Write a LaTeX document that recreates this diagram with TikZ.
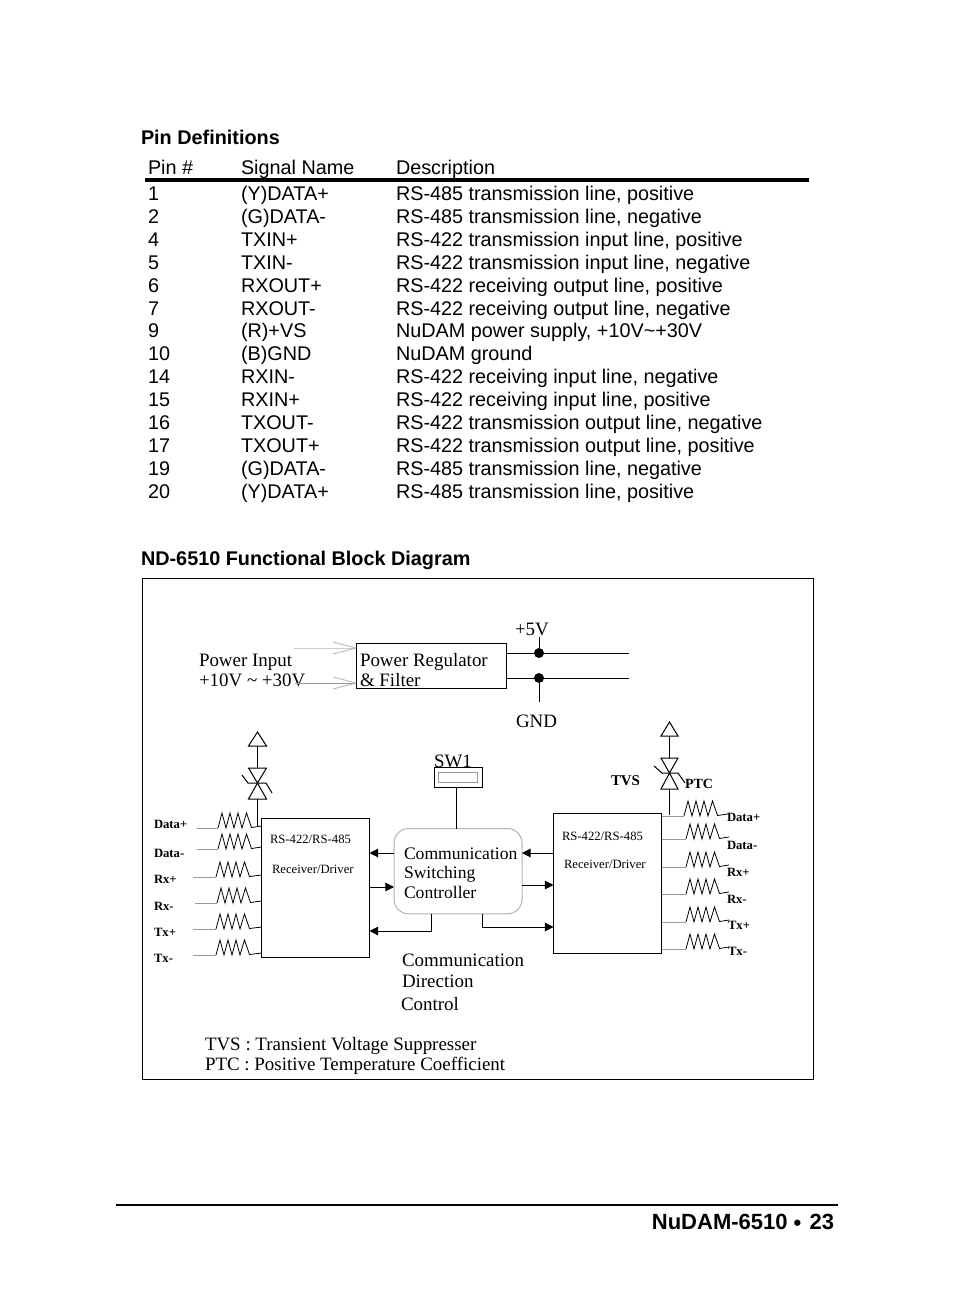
\documentclass[tikz,border=0pt]{standalone}
\usepackage{fontspec}
\setmainfont{Liberation Serif}
\newfontfamily\arialf{Liberation Sans}
\usetikzlibrary{arrows.meta,calc}
\tikzset{
  txt/.style={anchor=base west,inner sep=0pt,outer sep=0pt},
  body/.style={txt,font=\arialf\fontsize{14.85}{18}\selectfont},
  head/.style={txt,font=\arialf\bfseries\fontsize{14.87}{18}\selectfont},
  foot/.style={txt,anchor=base east,font=\arialf\bfseries\fontsize{16.5}{20}\selectfont},
  big/.style={txt,font=\fontsize{14.2}{17}\selectfont},
  ctl/.style={txt,font=\fontsize{13.2}{16}\selectfont},
  small/.style={txt,font=\fontsize{9.5}{11}\selectfont},
  lab/.style={txt,font=\bfseries\fontsize{9.5}{11}\selectfont},
  labb/.style={txt,font=\bfseries\fontsize{10.5}{12}\selectfont},
  box/.style={draw=black,line width=.75pt,rectangle,inner sep=0pt,outer sep=0pt,anchor=north west},
  ln/.style={draw=black,line width=.75pt},
  wiregray/.style={draw=black!40,line width=.6pt},
  wirelight/.style={draw=black!20,line width=.6pt},
  chevron/.style={draw=black!30,line width=.6pt},
  res/.style={draw=black,line width=.6pt,line join=miter},
  sym/.style={draw=black,line width=.75pt,line join=miter},
  arr/.style={ln,-{Triangle[length=6.5pt,width=6.5pt]}},
  dot/.style={circle,fill=black,inner sep=0pt,minimum size=7.5pt},
}
\newcommand\tabrow[4]{%
  \pgfmathsetmacro\rowy{200.4+22.92*#1}%
  \node[body] (pin#1) at (148,\rowy) {#2};
  \node[body] (sig#1) at (241,\rowy) {#3};
  \node[body] (desc#1) at (396,\rowy) {#4};
}
\newcommand\zigzag{-- ++(4,-15) -- ++(4,15) -- ++(4,-15) -- ++(4,15) -- ++(4,-15) -- ++(4,15) -- ++(4.5,-15) -- ++(5,14.5)}
\begin{document}
\begin{tikzpicture}[x=.75pt,y=-.75pt]
\useasboundingbox (0,0) rectangle (954,1314);
\node[head] (t1) at (141,144) {Pin Definitions};
\node[body] (hp) at (148,174) {Pin \#};
\node[body] (hs) at (241,174) {Signal Name};
\node[body] (hd) at (396,174) {Description};
\coordinate (ruleA) at (145,180);
\coordinate (ruleB) at (809,180);
\draw[draw=black,line width=3pt] (ruleA) -- (ruleB);
\tabrow{0}{1}{(Y)DATA+}{RS-485 transmission line, positive}
\tabrow{1}{2}{(G)DATA-}{RS-485 transmission line, negative}
\tabrow{2}{4}{TXIN+}{RS-422 transmission input line, positive}
\tabrow{3}{5}{TXIN-}{RS-422 transmission input line, negative}
\tabrow{4}{6}{RXOUT+}{RS-422 receiving output line, positive}
\tabrow{5}{7}{RXOUT-}{RS-422 receiving output line, negative}
\tabrow{6}{9}{(R)+VS}{NuDAM power supply, +10V\textasciitilde+30V}
\tabrow{7}{10}{(B)GND}{NuDAM ground}
\tabrow{8}{14}{RXIN-}{RS-422 receiving input line, negative}
\tabrow{9}{15}{RXIN+}{RS-422 receiving input line, positive}
\tabrow{10}{16}{TXOUT-}{RS-422 transmission output line, negative}
\tabrow{11}{17}{TXOUT+}{RS-422 transmission output line, positive}
\tabrow{12}{19}{(G)DATA-}{RS-485 transmission line, negative}
\tabrow{13}{20}{(Y)DATA+}{RS-485 transmission line, positive}
\node[head] (t2) at (141,565) {ND-6510 Functional Block Diagram};

% frame
\node[box,minimum width=503.25pt,minimum height=375.75pt] (frame) at (142,578) {};

% power
\node[box,minimum width=112.5pt,minimum height=33.75pt] (reg) at (356,643) {};
\node[big] (pi1) at (199,666) {Power Input};
\node[big] (pi2) at (199,686) {+10V \textasciitilde{} +30V};
\node[big] (pr1) at (360,666) {Power Regulator};
\node[big] (pr2) at (360,686) {\& Filter};
\node[big] (v5) at (515,635) {+5V};
\node[big] (gnd) at (516,727) {GND};
\coordinate (inA) at (294,648);
\coordinate (inB) at (295,683);
\draw[wirelight] (inA) -- (reg.west |- 0,648);
\draw[wiregray] (inB) -- (reg.west |- 0,683);
\draw[chevron] (333,642) -- (reg.west |- 0,648) -- (333,654);
\draw[chevron] (333,677) -- (reg.west |- 0,683) -- (333,689);
\node[dot] (d5) at (539,653) {};
\node[dot] (dg) at (539,678) {};
\coordinate (outA) at (629,653);
\coordinate (outB) at (629,678);
\coordinate (v5top) at (539,637);
\coordinate (gndbot) at (539,702);
\draw[ln] (reg.east |- d5) -- (outA);
\draw[ln] (reg.east |- dg) -- (outB);
\draw[ln] (v5top) -- (d5);
\draw[ln] (dg) -- (gndbot);

% receiver boxes
\node[box,minimum width=81pt,minimum height=104.25pt] (rxL) at (261.5,818) {};
\node[box,minimum width=81pt,minimum height=105pt] (rxR) at (553.5,813.5) {};
\node[small] (l1) at (270,843) {RS-422/RS-485};
\node[small] (l2) at (272,873) {Receiver/Driver};
\node[small] (r1) at (562,840) {RS-422/RS-485};
\node[small] (r2) at (564,868) {Receiver/Driver};

% controller
\node[box,draw=black!30,rounded corners=11pt,minimum width=96pt,minimum height=64pt] (ctrl) at (394,828.5) {};
\node[ctl] (c1) at (404,859) {Communication};
\node[ctl] (c2) at (404,878) {Switching};
\node[ctl] (c3) at (404,898) {Controller};

% switch
\node[box,minimum width=36pt,minimum height=15pt] (sw) at (434.5,767.5) {};
\node[box,draw=black!40,minimum width=29pt,minimum height=7.5pt] (swi) at (438.5,772.5) {};
\node[big] (swl) at (434,767) {SW1};
\draw[ln] (sw.south -| 456,0) -- (ctrl.north -| 456,0);

% arrows
\draw[arr] (ctrl.west |- 0,853) -- (rxL.east |- 0,853);
\draw[arr] (rxL.east |- 0,887) -- (ctrl.west |- 0,887);
\draw[arr] (ctrl.south -| 431,0) -- (431,931) -- (rxL.east |- 0,931);
\draw[arr] (rxR.west |- 0,853) -- (ctrl.east |- 0,853);
\draw[arr] (ctrl.east |- 0,885) -- (rxR.west |- 0,885);
\draw[arr] (ctrl.south -| 482,0) -- (482,927) -- (rxR.west |- 0,927);

% left resistors
\foreach \s/\z/\yy in {197/218/828,197/218/849,193/216/877,195/217/903,193/216/929,193/216/955}{
  \coordinate (wl\yy) at (\s,\yy);
  \coordinate (zl\yy) at (\z,\yy);
  \draw[wiregray] (wl\yy) -- (zl\yy);
  \pgfmathsetmacro\ye{\yy-2}
  \draw[res] (zl\yy) \zigzag -- (rxL.west |- 0,\ye);
}
% right resistors
\foreach \z/\yy/\ex/\ey in {684/816/728/814,686/839/729/837,686/867/729/865,686/894/729/892,686/922/729/920,686/949/729/947}{
  \coordinate (zr\yy) at (\z,\yy);
  \coordinate (er\yy) at (\ex,\ey);
  \draw[wiregray] (rxR.east |- zr\yy) -- (zr\yy);
  \draw[res] (zr\yy) \zigzag -- (er\yy);
}
% left TVS
\coordinate (ltA) at (257.5,746);
\coordinate (ltB) at (257.5,768);
\coordinate (ltC) at (257.5,799);
\draw[sym] (257.5,732) -- (266.5,746) -- (248.5,746) -- cycle;
\draw[sym] (ltA) -- (ltB);
\draw[sym] (248.5,768) -- (266.5,768) -- (257.5,783) -- cycle;
\draw[sym] (257.5,783) -- (266.5,799) -- (248.5,799) -- cycle;
\draw[sym] (242,775) -- (248,783) -- (266,783) -- (272,793);
\draw[sym] (ltC) -- (rxL.north -| 257.5,0) -- (257.5,826);
% right TVS
\coordinate (rtA) at (669.5,736);
\coordinate (rtB) at (669.5,758);
\coordinate (rtC) at (669.5,789);
\coordinate (rtD) at (669.5,815);
\draw[sym] (669.5,722) -- (678,736) -- (661,736) -- cycle;
\draw[sym] (rtA) -- (rtB);
\draw[sym] (661,758) -- (678,758) -- (669.5,773) -- cycle;
\draw[sym] (669.5,773) -- (678,789) -- (661,789) -- cycle;
\draw[sym] (654,766) -- (662,773) -- (678,773) -- (685,783);
\draw[sym] (rtC) -- (rtD);
\node[txt,font=\bfseries\fontsize{11.2}{13}\selectfont] (tvs) at (611,785) {TVS};
\node[labb] (ptc) at (685,788) {PTC};

% left labels
\node[lab] (a1) at (154,828) {Data+};
\node[lab] (a2) at (154,857) {Data-};
\node[lab] (a3) at (154,883) {Rx+};
\node[lab] (a4) at (154,910) {Rx-};
\node[lab] (a5) at (154,936) {Tx+};
\node[lab] (a6) at (154,962) {Tx-};
% right labels
\node[lab] (b1) at (727,821) {Data+};
\node[lab] (b2) at (727,849) {Data-};
\node[lab] (b3) at (727,876) {Rx+};
\node[lab] (b4) at (727,903) {Rx-};
\node[lab] (b5) at (728,929) {Tx+};
\node[lab] (b6) at (728,955) {Tx-};

% notes
\node[big] (n1) at (402,966) {Communication};
\node[big] (n2) at (402,987) {Direction};
\node[big] (n3) at (401,1010) {Control};
\node[big] (n4) at (205,1050) {TVS : Transient Voltage Suppresser};
\node[big] (n5) at (205,1070) {PTC : Positive Temperature Coefficient};

% footer
\coordinate (fa) at (116,1205);
\coordinate (fb) at (838,1205);
\draw[draw=black,line width=1.5pt] (fa) -- (fb);
\node[foot] (ft) at (834,1229) {NuDAM-6510 \raisebox{-1pt}{\textbullet}\kern1.5pt\ 23};
\end{tikzpicture}
\end{document}
